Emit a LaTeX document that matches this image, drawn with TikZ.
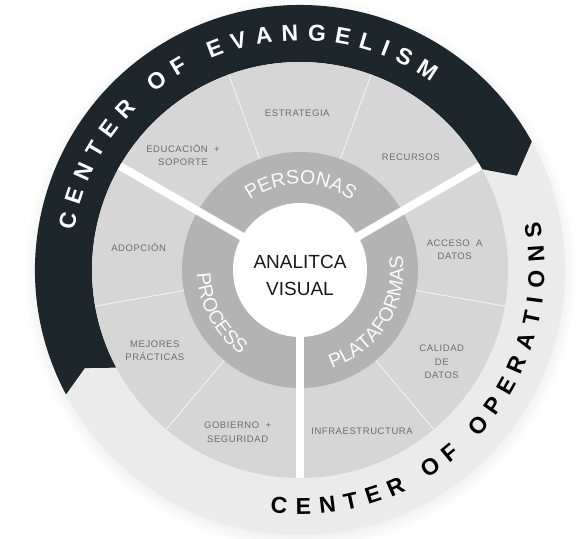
\documentclass[tikz,border=0pt]{standalone}
\usepackage{fontspec}
\setmainfont{Liberation Sans}
\newfontfamily\sectorfont[LetterSpace=6]{Liberation Sans}
\usetikzlibrary{decorations.text}
\usetikzlibrary{shadows}
\definecolor{evandark}{HTML}{1D272B}
\definecolor{opslight}{HTML}{EBEBEB}
\definecolor{sectorgray}{HTML}{D6D6D6}
\definecolor{ringgray}{HTML}{B3B3B3}
\definecolor{labelgray}{HTML}{6C6C6C}

\begin{document}
\begin{tikzpicture}[x=1pt,y=1pt,
  hub node/.style={circle,fill=white,minimum size=134pt,inner sep=0pt},
  hub text/.style={align=center,text=black!90,font=\fontsize{19}{27}\selectfont},
  sector node/.style={align=center,text=labelgray,font=\sectorfont\fontsize{9.5}{13.5}\selectfont},
  divider/.style={draw=white!75!sectorgray,line width=0.8pt},
  spoke/.style={draw=white,line width=8pt},
  ring title/.style={decorate,decoration={text along path,text align=center,text color=white!95!ringgray}},
  band title/.style={decorate,decoration={text along path,text align=fit to path}}]

  \useasboundingbox (-300,-268) rectangle (285,270);

  % outer bands
  \fill[opslight,circular drop shadow={shadow xshift=0pt,shadow yshift=-3pt,shadow scale=1.04,opacity=0.3}]
    (0,0) circle[radius=265pt];
  \fill[evandark] (208:265) arc[start angle=208,end angle=29,radius=265pt] -- (23.5:236.5)
    -- (29:208) arc[start angle=29,end angle=208,radius=208pt] -- (204.5:236.5) -- cycle;

  % sectors and ring
  \fill[sectorgray] (0,0) circle[radius=208pt];
  \fill[ringgray] (0,0) circle[radius=118pt];
  \foreach \a in {110,70,-10,-50,230,190}
    \draw[divider] (\a:118) -- (\a:208);
  \foreach \a in {150,30,270}
    \draw[spoke] (0,0) -- (\a:208);

  \node[hub node] (hub) at (0,0) {};
  \node[hub text] (hubtxt) at (0,-5) {ANALITCA\\VISUAL};

  \node[sector node] (edu) at (135.5:164) {EDUCACIÓN~~+\\SOPORTE};
  \node[sector node] (est) at (91:157) {ESTRATEGIA};
  \node[sector node] (rec) at (45.5:158) {RECURSOS};
  \node[sector node] (acc) at (7.4:156) {ACCESO~~A\\DATOS};
  \node[sector node] (cal) at (-33:169) {CALIDAD\\DE\\DATOS};
  \node[sector node] (inf) at (-69:173) {INFRAESTRUCTURA};
  \node[sector node] (gob) at (249:174) {GOBIERNO~~+\\SEGURIDAD};
  \node[sector node] (mej) at (209:166) {MEJORES\\PRÁCTICAS};
  \node[sector node] (ado) at (172:163) {ADOPCIÓN};

  % curved titles
  \path[ring title,decoration={text={|\fontsize{19.5}{19.5}\selectfont|PERSONAS}}]
    (149.5:86) arc[start angle=149.5,end angle=29.5,radius=86pt];
  \path[ring title,decoration={text={|\fontsize{19.5}{19.5}\selectfont|PROCESS}}]
    (148.5:103) arc[start angle=148.5,end angle=268.5,radius=103pt];
  \path[ring title,decoration={text={|\fontsize{19.5}{19.5}\selectfont|PLATAFORMAS}}]
    (-92:103.5) arc[start angle=-92,end angle=28,radius=103.5pt];
  \path[band title,decoration={text color=white,text={|\bfseries\fontsize{23}{23}\selectfont|CENTER OF EVANGELISM}}]
    (170:229.5) arc[start angle=170,end angle=55,radius=229.5pt];
  \path[band title,decoration={text color=black,text={|\bfseries\fontsize{23}{23}\selectfont|CENTER OF OPERATIONS}}]
    (263:244.5) arc[start angle=263,end angle=371.5,radius=244.5pt];
\end{tikzpicture}
\end{document}
